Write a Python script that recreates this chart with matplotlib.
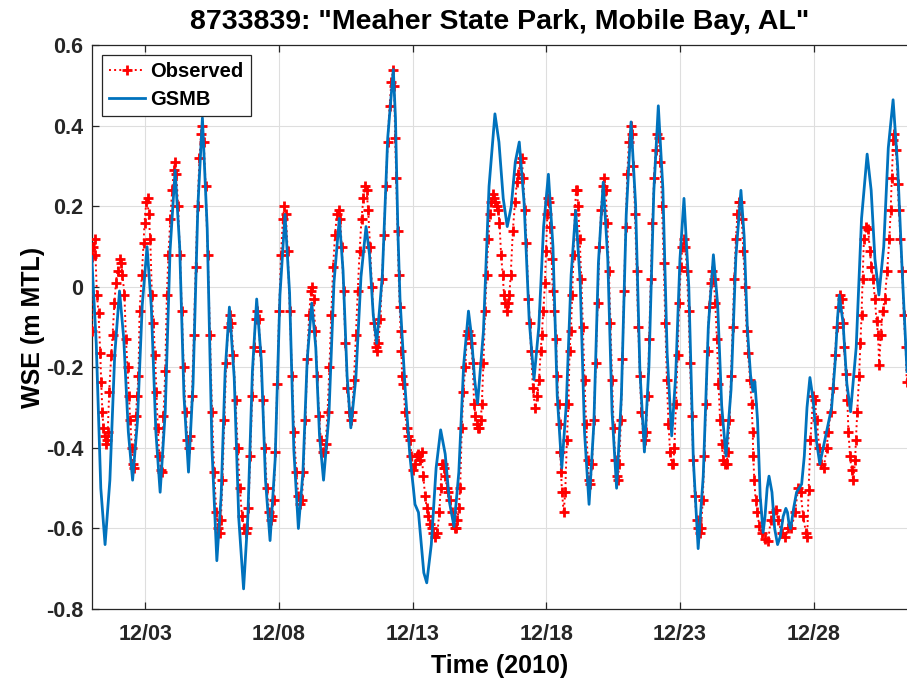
import numpy as np
import matplotlib
matplotlib.use('Agg')
import matplotlib.pyplot as plt
import matplotlib.dates as mdates
from matplotlib.ticker import FixedLocator, FuncFormatter

# days since 2010-12-01 00:00, water surface elevation (m MTL)
obs_pts = [
    (0.00, -0.11), (0.01, 0.075), (0.06, 0.10), (0.105, 0.12), (0.14, 0.08), (0.195, -0.02), (0.255, -0.065),
    (0.32, -0.165), (0.355, -0.235), (0.40, -0.31), (0.44, -0.35), (0.49, -0.37), (0.53, -0.39), (0.57, -0.38),
    (0.60, -0.36), (0.655, -0.26), (0.73, -0.17), (0.78, -0.12), (0.85, -0.04), (0.905, 0.01), (0.965, 0.04),
    (1.04, 0.07), (1.10, 0.06), (1.15, 0.03), (1.225, -0.02), (1.28, -0.13), (1.34, -0.20), (1.39, -0.27),
    (1.44, -0.33), (1.50, -0.40), (1.55, -0.44), (1.59, -0.45), (1.65, -0.32), (1.70, -0.27), (1.75, -0.22),
    (1.79, -0.06), (1.875, 0.03), (1.94, 0.11), (1.975, 0.16), (2.04, 0.21), (2.09, 0.22), (2.125, 0.18),
    (2.19, 0.12), (2.25, -0.02), (2.31, -0.09), (2.37, -0.17), (2.42, -0.26), (2.47, -0.35), (2.53, -0.42),
    (2.59, -0.455), (2.62, -0.46), (2.685, -0.32), (2.75, -0.21), (2.81, -0.02),
    (2.87, 0.08), (2.94, 0.17), (3.01, 0.24), (3.07, 0.29), (3.12, 0.31), (3.17, 0.28),
    (3.23, 0.20), (3.30, 0.08), (3.37, -0.06), (3.44, -0.20), (3.51, -0.31), (3.58, -0.38), (3.64, -0.40), (3.69, -0.37),
    (3.75, -0.27), (3.82, -0.12), (3.89, 0.05), (3.96, 0.20), (4.03, 0.32), (4.09, 0.38), (4.14, 0.40), (4.19, 0.36),
    (4.26, 0.25), (4.34, 0.08), (4.42, -0.12), (4.50, -0.31), (4.58, -0.46), (4.66, -0.56), (4.72, -0.60), (4.78, -0.61), (4.83, -0.58),
    (4.89, -0.48), (4.96, -0.33), (5.03, -0.19), (5.10, -0.10), (5.17, -0.07), (5.22, -0.09),
    (5.30, -0.17), (5.38, -0.28), (5.46, -0.40), (5.54, -0.50), (5.62, -0.57), (5.70, -0.60), (5.76, -0.61), (5.81, -0.60),
    (5.86, -0.55), (5.93, -0.42), (6.00, -0.27), (6.07, -0.15), (6.13, -0.08), (6.19, -0.06), (6.24, -0.08),
    (6.31, -0.16), (6.39, -0.28), (6.47, -0.40), (6.55, -0.50), (6.63, -0.56), (6.70, -0.58), (6.75, -0.57),
    (6.80, -0.53), (6.87, -0.41), (6.94, -0.24), (7.01, -0.06), (7.08, 0.08), (7.15, 0.17), (7.21, 0.20), (7.26, 0.18),
    (7.33, 0.09), (7.41, -0.06), (7.49, -0.22), (7.57, -0.36), (7.65, -0.46), (7.73, -0.52), (7.80, -0.54), (7.86, -0.53),
    (7.92, -0.46), (7.99, -0.33), (8.06, -0.18), (8.13, -0.07), (8.20, -0.01), (8.25, 0.00), (8.30, -0.03),
    (8.36, -0.11), (8.43, -0.22), (8.50, -0.32), (8.57, -0.38), (8.64, -0.41), (8.70, -0.41), (8.75, -0.39),
    (8.82, -0.31), (8.89, -0.20), (8.96, -0.07), (9.03, 0.05), (9.10, 0.13), (9.17, 0.18), (9.24, 0.19), (9.29, 0.17),
    (9.35, 0.10), (9.42, -0.01), (9.49, -0.14), (9.56, -0.25), (9.63, -0.31), (9.69, -0.33), (9.74, -0.31),
    (9.81, -0.23), (9.88, -0.12), (9.95, -0.01), (10.02, 0.09), (10.09, 0.17), (10.16, 0.22), (10.23, 0.25), (10.28, 0.24),
    (10.34, 0.19), (10.41, 0.10), (10.48, 0.00), (10.55, -0.09), (10.62, -0.15), (10.67, -0.16), (10.72, -0.14),
    (10.79, -0.08), (10.86, 0.02), (10.93, 0.13), (11.00, 0.25), (11.07, 0.36), (11.14, 0.45), (11.21, 0.51), (11.27, 0.54), (11.31, 0.50),
    (11.35, 0.37), (11.39, 0.27), (11.44, 0.14), (11.48, 0.03), (11.52, -0.05), (11.55, -0.11), (11.58, -0.16), (11.61, -0.22),
    (11.65, -0.24), (11.72, -0.31), (11.78, -0.35), (11.84, -0.37), (11.90, -0.38), (11.96, -0.42), (12.03, -0.455), (12.09, -0.44),
    (12.16, -0.42), (12.22, -0.415), (12.28, -0.43), (12.34, -0.41), (12.40, -0.47), (12.47, -0.52), (12.53, -0.55), (12.59, -0.57),
    (12.66, -0.59), (12.72, -0.60), (12.78, -0.61), (12.84, -0.62), (12.93, -0.61), (13.00, -0.56), (13.05, -0.50), (13.09, -0.44),
    (13.14, -0.44), (13.18, -0.45), (13.23, -0.47), (13.28, -0.50), (13.34, -0.51), (13.40, -0.53), (13.47, -0.56), (13.53, -0.59),
    (13.58, -0.60), (13.63, -0.60), (13.68, -0.58), (13.72, -0.55), (13.78, -0.50), (13.84, -0.35), (13.90, -0.26), (13.97, -0.20),
    (14.03, -0.12), (14.09, -0.11), (14.13, -0.12), (14.18, -0.14), (14.25, -0.19), (14.30, -0.29), (14.35, -0.32), (14.40, -0.34),
    (14.45, -0.35), (14.50, -0.35), (14.55, -0.33), (14.59, -0.29), (14.65, -0.19), (14.71, -0.06), (14.77, 0.03), (14.83, 0.12),
    (14.90, 0.18), (14.95, 0.21), (15.00, 0.23), (15.04, 0.22), (15.08, 0.21), (15.14, 0.20), (15.20, 0.19), (15.25, 0.16),
    (15.31, 0.08), (15.37, 0.03), (15.42, -0.02), (15.47, -0.04), (15.52, -0.06), (15.57, -0.04), (15.62, -0.02), (15.67, 0.03),
    (15.75, 0.14), (15.83, 0.21), (15.90, 0.26), (15.96, 0.28), (16.02, 0.31), (16.08, 0.32), (16.14, 0.27), (16.20, 0.19),
    (16.26, 0.11), (16.33, -0.03), (16.39, -0.09), (16.43, -0.16), (16.50, -0.25), (16.58, -0.30), (16.67, -0.27), (16.73, -0.23),
    (16.79, -0.16), (16.83, -0.12), (16.89, -0.06), (16.95, 0.01), (16.99, 0.09), (17.04, 0.18), (17.08, 0.22), (17.11, 0.21),
    (17.14, 0.15), (17.20, 0.07), (17.24, -0.01), (17.30, -0.06), (17.37, -0.13), (17.40, -0.22), (17.46, -0.29), (17.50, -0.34),
    (17.53, -0.41), (17.55, -0.46), (17.59, -0.51), (17.65, -0.56), (17.71, -0.51), (17.77, -0.38), (17.83, -0.29), (17.87, -0.16),
    (17.92, -0.11),
    (17.97, -0.02), (18.02, 0.08), (18.07, 0.18), (18.11, 0.24), (18.15, 0.24), (18.19, 0.20),
    (18.25, 0.12), (18.31, 0.02), (18.37, -0.10), (18.43, -0.23), (18.49, -0.34), (18.55, -0.43), (18.60, -0.48), (18.65, -0.49),
    (18.71, -0.44), (18.78, -0.33), (18.85, -0.19), (18.92, -0.04), (18.99, 0.10), (19.05, 0.19), (19.11, 0.25), (19.17, 0.27), (19.22, 0.24),
    (19.28, 0.16), (19.34, 0.04), (19.40, -0.09), (19.46, -0.23), (19.52, -0.35), (19.58, -0.43), (19.63, -0.47), (19.68, -0.48), (19.73, -0.44),
    (19.79, -0.33), (19.85, -0.18), (19.91, -0.01), (19.97, 0.15), (20.03, 0.28), (20.09, 0.36), (20.15, 0.40), (20.20, 0.38),
    (20.26, 0.30), (20.32, 0.18), (20.38, 0.04), (20.44, -0.10), (20.50, -0.22), (20.56, -0.31), (20.62, -0.36), (20.68, -0.38), (20.73, -0.36),
    (20.79, -0.27), (20.85, -0.13), (20.91, 0.02), (20.97, 0.16), (21.03, 0.27), (21.09, 0.34), (21.15, 0.38), (21.21, 0.37),
    (21.27, 0.31), (21.33, 0.20), (21.39, 0.06), (21.45, -0.09), (21.51, -0.23), (21.57, -0.34), (21.63, -0.41), (21.69, -0.44), (21.75, -0.44), (21.79, -0.40),
    (21.85, -0.29), (21.91, -0.17), (21.97, -0.04), (22.03, 0.05), (22.09, 0.10), (22.15, 0.12), (22.20, 0.10),
    (22.26, 0.04), (22.32, -0.06), (22.38, -0.19), (22.44, -0.32), (22.50, -0.43), (22.56, -0.52), (22.62, -0.58), (22.68, -0.60), (22.74, -0.61), (22.79, -0.60),
    (22.85, -0.53), (22.91, -0.42), (22.97, -0.29), (23.03, -0.16), (23.09, -0.05), (23.15, 0.01), (23.21, 0.04), (23.26, 0.02),
    (23.32, -0.04), (23.38, -0.13), (23.44, -0.24), (23.50, -0.33), (23.56, -0.39), (23.62, -0.43), (23.68, -0.44), (23.74, -0.44), (23.79, -0.41),
    (23.85, -0.33), (23.91, -0.22), (23.97, -0.10), (24.03, 0.02), (24.09, 0.12), (24.15, 0.18), (24.21, 0.21), (24.26, 0.21), (24.31, 0.17),
    (24.37, 0.09), (24.43, 0.00), (24.49, -0.11), (24.55, -0.165),
    (24.62, -0.23), (24.68, -0.29), (24.72, -0.36), (24.74, -0.42), (24.78, -0.48), (24.83, -0.53), (24.89, -0.56), (24.97, -0.595),
    (25.05, -0.61), (25.17, -0.625), (25.30, -0.63), (25.39, -0.58), (25.49, -0.56), (25.59, -0.555), (25.67, -0.58), (25.80, -0.61),
    (25.92, -0.62), (26.05, -0.60), (26.17, -0.60), (26.30, -0.56), (26.42, -0.50), (26.51, -0.51), (26.61, -0.57), (26.71, -0.61),
    (26.76, -0.62), (26.81, -0.505), (26.88, -0.38), (26.98, -0.27), (27.04, -0.28), (27.11, -0.33), (27.21, -0.40), (27.29, -0.44),
    (27.38, -0.45), (27.48, -0.40), (27.55, -0.36), (27.63, -0.31), (27.71, -0.25), (27.80, -0.17), (27.86, -0.10), (27.93, -0.05),
    (27.99, -0.02), (28.05, -0.03), (28.11, -0.09), (28.14, -0.15), (28.20, -0.215), (28.26, -0.28), (28.30, -0.36), (28.36, -0.42),
    (28.42, -0.455), (28.48, -0.48), (28.55, -0.43), (28.58, -0.38), (28.63, -0.31), (28.70, -0.22), (28.75, -0.14), (28.79, -0.07),
    (28.83, 0.02), (28.88, 0.12), (28.95, 0.15), (29.04, 0.145), (29.10, 0.09), (29.16, 0.05), (29.22, 0.02), (29.29, -0.03),
    (29.35, -0.085), (29.41, -0.12), (29.45, -0.195), (29.51, -0.12), (29.58, -0.06), (29.66, -0.03), (29.75, 0.04), (29.83, 0.12),
    (29.88, 0.19), (29.92, 0.27), (29.98, 0.365), (30.02, 0.38), (30.09, 0.34), (30.14, 0.255), (30.19, 0.19), (30.24, 0.12),
    (30.31, 0.04), (30.37, -0.07), (30.44, -0.15), (30.48, -0.235),
]

gsmb_pts = [
    (0.00, 0.075), (0.17, -0.14), (0.34, -0.50), (0.50, -0.64),
    (0.68, -0.48), (0.86, -0.17), (1.04, -0.01),
    (1.20, -0.13), (1.37, -0.36), (1.53, -0.48),
    (1.71, -0.335), (1.89, -0.045), (2.07, 0.10),
    (2.23, -0.05), (2.40, -0.36), (2.56, -0.51),
    (2.75, -0.31), (2.93, 0.09), (3.12, 0.29),
    (3.29, 0.10), (3.45, -0.27), (3.62, -0.46),
    (3.79, -0.24), (3.97, 0.20), (4.14, 0.42),
    (4.32, 0.145), (4.50, -0.405), (4.68, -0.68),
    (4.84, -0.52), (4.99, -0.21), (5.15, -0.05),
    (5.33, -0.225), (5.50, -0.575), (5.68, -0.75),
    (5.84, -0.57), (6.01, -0.21), (6.17, -0.03),
    (6.34, -0.18), (6.50, -0.48), (6.67, -0.63),
    (6.86, -0.43), (7.04, -0.02), (7.23, 0.18),
    (7.40, -0.015), (7.56, -0.405), (7.73, -0.60),
    (7.90, -0.46), (8.06, -0.18), (8.23, -0.04),
    (8.38, -0.15), (8.52, -0.37), (8.67, -0.48),
    (8.87, -0.32), (9.06, 0.01), (9.26, 0.17),
    (9.40, 0.04), (9.55, -0.22), (9.69, -0.35),
    (9.88, -0.225), (10.07, 0.025), (10.26, 0.15),
    (10.39, 0.08), (10.53, -0.07), (10.66, -0.14),
    (10.87, 0.03), (11.07, 0.37), (11.28, 0.54),
    (11.36, 0.42), (11.45, 0.14), (11.53, -0.03), (11.72, -0.25), (11.90, -0.42), (12.03, -0.50),
    (12.09, -0.54), (12.22, -0.56), (12.30, -0.62), (12.42, -0.71), (12.53, -0.735),
    (12.70, -0.64), (12.88, -0.45), (13.05, -0.355),
    (13.22, -0.415), (13.38, -0.535), (13.55, -0.595),
    (13.73, -0.46), (13.91, -0.195), (14.09, -0.06),
    (14.20, -0.12), (14.32, -0.23), (14.43, -0.29),
    (14.65, -0.11), (14.86, 0.25), (15.08, 0.43),
    (15.23, 0.36), (15.39, 0.22), (15.54, 0.15),
    (15.69, 0.20), (15.84, 0.31), (15.99, 0.36),
    (16.17, 0.21), (16.36, -0.08), (16.54, -0.23),
    (16.72, -0.10), (16.90, 0.15), (17.08, 0.28),
    (17.25, 0.10), (17.41, -0.27), (17.58, -0.45),
    (17.75, -0.29), (17.93, 0.03), (18.10, 0.19),
    (18.27, 0.01), (18.43, -0.36), (18.60, -0.54),
    (18.78, -0.34), (18.95, 0.06), (19.13, 0.26),
    (19.30, 0.07), (19.46, -0.31), (19.63, -0.50),
    (19.81, -0.27), (19.99, 0.18), (20.17, 0.41),
    (20.34, 0.205), (20.50, -0.205), (20.67, -0.41),
    (20.84, -0.195), (21.02, 0.235), (21.19, 0.45),
    (21.36, 0.245), (21.52, -0.165), (21.69, -0.37),
    (21.84, -0.22), (22.00, 0.07), (22.15, 0.22),
    (22.33, 0.00), (22.50, -0.43), (22.68, -0.65),
    (22.87, -0.47), (23.06, -0.10), (23.25, 0.08),
    (23.41, -0.045), (23.56, -0.295), (23.72, -0.42),
    (23.91, -0.255), (24.09, 0.075), (24.28, 0.24),
    (24.40, 0.125), (24.52, -0.105), (24.64, -0.22), (24.73, -0.26), (24.80, -0.235),
    (24.90, -0.33), (25.00, -0.52), (25.11, -0.61),
    (25.18, -0.57), (25.26, -0.50), (25.33, -0.47),
    (25.44, -0.51), (25.54, -0.60), (25.65, -0.64),
    (25.75, -0.62), (25.86, -0.57), (25.96, -0.55),
    (26.02, -0.56), (26.08, -0.59), (26.14, -0.60),
    (26.25, -0.55), (26.36, -0.51), (26.55, -0.49), (26.65, -0.42), (26.75, -0.30), (26.86, -0.225),
    (26.98, -0.28), (27.11, -0.385), (27.23, -0.44),
    (27.48, -0.36), (27.67, -0.30), (27.80, -0.19), (27.89, -0.08), (27.96, -0.02),
    (28.10, -0.09), (28.24, -0.24), (28.38, -0.31),
    (28.59, -0.15), (28.79, 0.17), (29.00, 0.33),
    (29.15, 0.24), (29.29, 0.07), (29.44, -0.02),
    (29.62, 0.10), (29.79, 0.345), (29.97, 0.465),
    (30.14, 0.30), (30.31, 0.04), (30.49, -0.21),
]

y_ticks = [-0.8, -0.6, -0.4, -0.2, 0, 0.2, 0.4, 0.6]
tick_days = [3, 8, 13, 18, 23, 28]

start = np.datetime64('2010-12-01T00:00')


def to_time(days):
    return start + np.round(np.asarray(days) * 1440).astype('timedelta64[m]')


obs_day, obs_wse = np.array(obs_pts).T
gsmb_day, gsmb_wse = np.array(gsmb_pts).T

plt.rcParams['font.family'] = ['Liberation Sans', 'DejaVu Sans']
plt.rcParams['font.weight'] = 'bold'
plt.rcParams['axes.unicode_minus'] = False

fig = plt.figure(figsize=(9.07, 6.79), dpi=100)
ax = fig.add_axes([0.1011, 0.1031, 0.8989, 0.830])

ax.plot(to_time(obs_day), obs_wse, color='red', linestyle=':', linewidth=1.4,
        marker='+', markersize=7, markeredgewidth=2.0, label='Observed', zorder=3)
ax.plot(to_time(gsmb_day), gsmb_wse, color='#0072BD', linewidth=2.0,
        label='GSMB', zorder=4)

ax.set_ylim(-0.8, 0.6)
ax.set_xlim(to_time(0.0), to_time(30.49))
ax.yaxis.set_major_locator(FixedLocator(y_ticks))
ax.yaxis.set_major_formatter(FuncFormatter(lambda v, p: '0' if abs(v) < 1e-9 else '%.1f' % v))
ax.xaxis.set_major_locator(mdates.DayLocator(bymonthday=tick_days))
ax.xaxis.set_major_formatter(mdates.DateFormatter('%m/%d'))

ax.grid(True, color='#dedede', linewidth=0.8)
ax.set_axisbelow(True)
for s in ['left', 'bottom', 'top']:
    ax.spines[s].set_color('#262626')
    ax.spines[s].set_linewidth(0.9)
ax.spines['right'].set_visible(False)
ax.tick_params(direction='in', top=True, right=False, length=5, width=0.9,
               colors='#262626', labelsize=15.5)
ax.tick_params(axis='x', pad=11)
ax.tick_params(axis='y', pad=6)
for lab in ax.get_xticklabels() + ax.get_yticklabels():
    lab.set_fontweight('bold')

ax.set_title('8733839: "Meaher State Park, Mobile Bay, AL"', fontsize=20.5, fontweight='bold', pad=12)
ax.set_xlabel('Time (2010)', fontsize=18, fontweight='bold', labelpad=6)
ax.set_ylabel('WSE (m MTL)', fontsize=18, fontweight='bold', labelpad=1)

leg = ax.legend(loc='upper left', bbox_to_anchor=(0.0126, 0.983), borderaxespad=0,
                fontsize=14.5, handlelength=1.8, handletextpad=0.25, borderpad=0.35,
                labelspacing=0.45, fancybox=False, framealpha=1)
leg.get_frame().set_edgecolor('#262626')
leg.get_frame().set_linewidth(0.9)

fig.savefig('out.png', dpi=100)
